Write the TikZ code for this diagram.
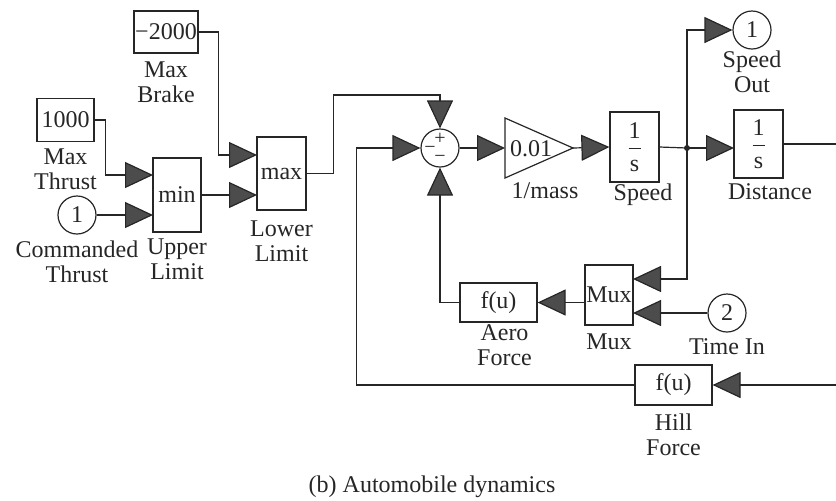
\documentclass[tikz,border=0pt]{standalone}
\usepackage{fontspec}
\setmainfont{Liberation Serif}
\usepackage{amsmath}
\usetikzlibrary{arrows.meta,positioning}

\begin{document}
\begin{tikzpicture}[
        x=0.5pt, y=-0.5pt,
        every node/.style={font=\fontsize{12}{12.5}\selectfont, text=black!85},
        block/.style={draw=black!85, line width=0.6pt, inner sep=0pt},
        port/.style={draw=black!85, line width=0.6pt, circle, minimum size=19pt, inner sep=0pt},
        lbl/.style={align=center, inner sep=0pt},
        sign/.style={inner sep=0pt, font=\fontsize{10}{10}\selectfont},
        wire/.style={draw=black!85, line width=0.6pt},
        sig/.style={wire, -{Triangle[length=14pt,width=13pt,fill=black!70]}},
    ]
    \useasboundingbox (0,0) rectangle (836,500);

    % === LIMITS ===
    \node[block, minimum width=32pt, minimum height=21pt] (brake) at (166,32) {−2000};
    \node[lbl, below=4pt of brake] (brakel) {Max\\Brake};

    \node[block, minimum width=28.5pt, minimum height=21.5pt] (thrustc) at (65.5,120) {1000};
    \node[lbl, below=3pt of thrustc] (thrustl) {Max\\Thrust};

    \node[port] (cmd) at (77,215) {1};
    \node[lbl, below=3pt of cmd] (cmdl) {Commanded\\Thrust};

    \node[block, minimum width=24pt, minimum height=37pt] (minb) at (177,195) {min};
    \node[lbl, below=3pt of minb] (minl) {Upper\\Limit};

    \node[block, minimum width=24.5pt, minimum height=36.5pt] (maxb) at (281.5,173.5) {max};
    \node[lbl, below=5pt of maxb] (maxl) {Lower\\Limit};

    \coordinate (min-in1) at (153,175);
    \coordinate (min-in2) at (153,215);
    \coordinate (max-in1) at (257,155);
    \coordinate (max-in2) at (257,195);

    \draw[sig] (thrustc.east) -- ++(11,0) |- (min-in1);
    \draw[sig] (cmd.east) -- (min-in2);
    \draw[sig] (brake.east) -- ++(20,0) |- (max-in1);
    \draw[sig] (minb.east) -- (max-in2);

    % === SUM AND GAIN ===
    \node[port] (sum) at (440,148) {};
    \node[sign] (splus) at (440,139) {+};
    \node[sign] (sminl) at (430,150) {−};
    \node[sign] (sminb) at (440,159) {−};

    \coordinate (gain-in) at (505,148);
    \coordinate (gain-out) at (573,148);
    \draw[wire] (505,118) -- (gain-out) -- (505,178) -- cycle;
    \node (gain) at (531,149) {0.01};
    \node[lbl] (gainl) at (545,191) {1/mass};

    \draw[sig] (maxb.east) -- ++(27,0) |- (sum |- 0,95) -- (sum.north);
    \draw[sig] (sum.east) -- (gain-in);

    % === INTEGRATORS ===
    \node[block, minimum width=24.5pt, minimum height=35pt] (speedint) at (634.5,147) {$\dfrac{\text{1}}{\text{s}}$};
    \node[lbl] (speedl) at (643,195) {Speed};

    \node[block, minimum width=24.5pt, minimum height=34pt] (distint) at (758.5,144) {$\dfrac{\text{1}}{\text{s}}$};
    \node[lbl] (distl) at (770,192) {Distance};

    \node[port] (spout) at (752,30) {1};
    \node[lbl, below=0.5pt of spout] (spoutl) {Speed\\Out};

    \coordinate (split) at (687,148);
    \coordinate (dist-in) at (734,148);
    \coordinate (dist-out) at (836,144);

    \draw[sig] (gain-out) -- (speedint.west);
    \draw[wire] (speedint.east) -- (split);
    \fill[black!85] (split) circle (1.5pt);
    \draw[sig] (split) |- (spout.west);
    \draw[sig] (split) -- (dist-in);
    \draw[wire] (distint.east) -- (dist-out);

    % === FORCES ===
    \node[block, minimum width=24pt, minimum height=30pt] (mux) at (609,295) {Mux};
    \node[lbl, below=4pt of mux] (muxl) {Mux};

    \node[port] (timein) at (727,313) {2};
    \node[lbl, below=3pt of timein] (timeinl) {Time In};

    \node[block, minimum width=38.5pt, minimum height=19.5pt] (aero) at (498.5,302.5) {f(u)};
    \node[lbl, below=1pt of aero, xshift=3pt] (aerol) {Aero\\Force};

    \node[block, minimum width=38.5pt, minimum height=20pt] (hill) at (673.5,385) {f(u)};
    \node[lbl, below=4pt of hill] (hilll) {Hill\\Force};

    \coordinate (mux-in1) at (633,279);
    \coordinate (mux-in2) at (633,313);
    \coordinate (mux-out) at (585,302.5);
    \coordinate (hill-src) at (836,385);

    \draw[sig] (split) |- (mux-in1);
    \draw[sig] (timein.west) -- (mux-in2);
    \draw[sig] (mux-out) -- (aero.east);
    \draw[sig] (aero.west) -| (sum.south);
    \draw[sig] (hill-src) -- (hill.east);
    \draw[sig] (hill.west) -- ++(-278,0) |- (sum.west);

    \node (caption) at (432,487) {(b) Automobile dynamics};
\end{tikzpicture}
\end{document}
